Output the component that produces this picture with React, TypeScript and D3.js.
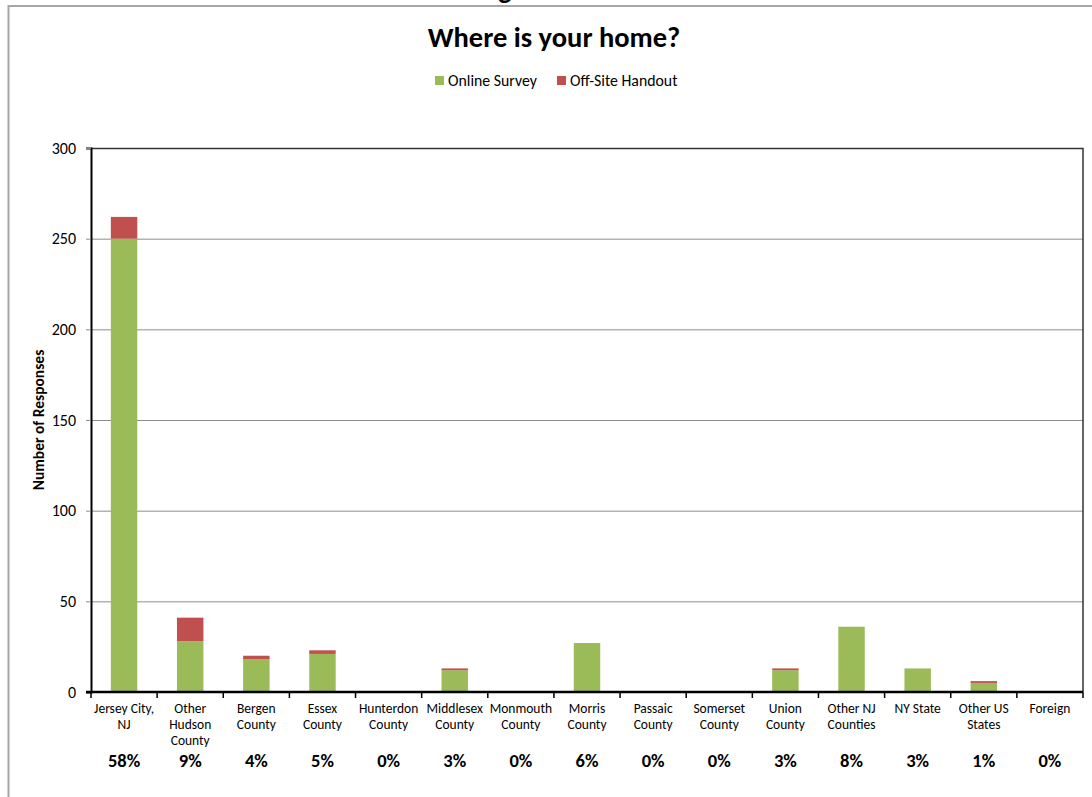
import React, { useEffect, useRef } from 'react';
import * as d3 from 'd3';

const categories = [
  'Jersey City, NJ', 'Other Hudson County', 'Bergen County', 'Essex County', 'Hunterdon County',
  'Middlesex County', 'Monmouth County', 'Morris County', 'Passaic County', 'Somerset County',
  'Union County', 'Other NJ Counties', 'NY State', 'Other US States', 'Foreign',
];
// wrapped tick label lines as shown under each bar
const labelLines = [
  ['Jersey City,', 'NJ'], ['Other', 'Hudson', 'County'], ['Bergen', 'County'], ['Essex', 'County'],
  ['Hunterdon', 'County'], ['Middlesex', 'County'], ['Monmouth', 'County'], ['Morris', 'County'],
  ['Passaic', 'County'], ['Somerset', 'County'], ['Union', 'County'], ['Other NJ', 'Counties'],
  ['NY State'], ['Other US', 'States'], ['Foreign'],
];
const onlineSurvey = [250, 28, 18, 21, 0, 12, 0, 27, 0, 0, 12, 36, 13, 5, 0];
const offSiteHandout = [12, 13, 2, 2, 0, 1, 0, 0, 0, 0, 1, 0, 0, 1, 0];
const percentLabels = ['58%', '9%', '4%', '5%', '0%', '3%', '0%', '6%', '0%', '0%', '3%', '8%', '3%', '1%', '0%'];
const yTicks = [0, 50, 100, 150, 200, 250, 300];
const seriesNames = ['Online Survey', 'Off-Site Handout'];
const colors = ['#9bbb59', '#c0504d'];

const FONT = 'Carlito, Calibri, Lato, sans-serif';

export default function App() {
  const svgRef = useRef<SVGSVGElement>(null);

  useEffect(() => {
    if (!svgRef.current) return;
    const svg = d3.select(svgRef.current);
    svg.selectAll('*').remove();

    const W = 1092, H = 797;
    const left = 91, right = 1083, top = 148, bottom = 692;

    // outer chart frame (runs past the window on right/bottom)
    svg.append('rect')
      .attr('x', 8.5).attr('y', 6).attr('width', W + 20).attr('height', H + 20)
      .attr('fill', '#fff').attr('stroke', '#a6a6a6').attr('stroke-width', 2);

    // descender of a cut-off heading above the frame
    svg.append('text').attr('x', 505).attr('y', -1).attr('text-anchor', 'middle')
      .attr('font-family', FONT).attr('font-weight', 'bold').attr('font-size', 28).text('g');

    svg.append('text').attr('x', 554).attr('y', 47).attr('text-anchor', 'middle')
      .attr('font-family', FONT).attr('font-weight', 'bold').attr('font-size', 28.5)
      .attr('fill', '#000').text('Where is your home?');

    // legend
    const legendX = [435, 557];
    seriesNames.forEach((name, i) => {
      svg.append('rect').attr('x', legendX[i]).attr('y', 76).attr('width', 9).attr('height', 9)
        .attr('fill', colors[i]);
      svg.append('text').attr('x', legendX[i] + 13).attr('y', 86)
        .attr('font-family', FONT).attr('font-size', 15.8).attr('fill', '#000').text(name);
    });

    const x = d3.scaleBand<string>().domain(categories).range([left, right]).paddingInner(0).paddingOuter(0);
    const y = d3.scaleLinear().domain([0, 300]).range([bottom, top]);

    // gridlines
    svg.append('g').selectAll('line').data(yTicks.filter(t => t > 0 && t < 300)).enter().append('line')
      .attr('x1', left).attr('x2', right)
      .attr('y1', d => y(d) + 0.5).attr('y2', d => y(d) + 0.5)
      .attr('stroke', '#8c8c8c').attr('stroke-width', 1);

    // plot area top/right border
    svg.append('path')
      .attr('d', `M${left},${y(300) + 0.5}H${right}V${bottom}`)
      .attr('fill', 'none').attr('stroke', '#333').attr('stroke-width', 1.5);

    // stacked bars
    const stackData = categories.map((c, i) => ({ cat: c, online: onlineSurvey[i], handout: offSiteHandout[i] }));
    const stack = d3.stack<any>().keys(['online', 'handout'])(stackData);
    const barW = x.bandwidth() * 0.4;
    stack.forEach((layer, li) => {
      svg.append('g').selectAll('rect').data(layer).enter().append('rect')
        .attr('x', d => x(d.data.cat)! + (x.bandwidth() - barW) / 2)
        .attr('y', d => y(d[1]))
        .attr('width', barW)
        .attr('height', d => Math.max(0, y(d[0]) - y(d[1])))
        .attr('fill', colors[li]);
    });

    // y axis
    const yAxis = svg.append('g').attr('transform', `translate(${left},0)`)
      .call(d3.axisLeft(y).tickValues(yTicks).tickSize(5).tickPadding(10));
    yAxis.select('.domain').attr('stroke', '#000').attr('stroke-width', 2);
    yAxis.selectAll('.tick line').attr('stroke', '#8c8c8c');
    yAxis.selectAll('.tick text').attr('font-family', FONT).attr('font-size', 16).attr('fill', '#000');

    // x axis line and ticks at category boundaries
    svg.append('line').attr('x1', left - 5).attr('x2', right).attr('y1', bottom).attr('y2', bottom)
      .attr('stroke', '#000').attr('stroke-width', 2.5);
    const bounds = categories.map(c => x(c)!).concat([right]);
    svg.append('g').selectAll('line').data(bounds).enter().append('line')
      .attr('x1', d => d).attr('x2', d => d).attr('y1', bottom).attr('y2', bottom + 6)
      .attr('stroke', '#000').attr('stroke-width', 1.5);

    // category labels
    categories.forEach((c, i) => {
      const cx = x(c)! + x.bandwidth() / 2;
      const t = svg.append('text').attr('x', cx).attr('y', 713).attr('text-anchor', 'middle')
        .attr('font-family', FONT).attr('font-size', 13.5).attr('fill', '#000');
      labelLines[i].forEach((line, j) => {
        t.append('tspan').attr('x', cx).attr('y', 713 + j * 16).text(line);
      });
      svg.append('text').attr('x', cx).attr('y', 767).attr('text-anchor', 'middle')
        .attr('font-family', FONT).attr('font-weight', 'bold').attr('font-size', 18.5)
        .attr('fill', '#000').text(percentLabels[i]);
    });

    // y axis title
    svg.append('text').attr('transform', `translate(44,${(top + bottom) / 2}) rotate(-90)`)
      .attr('text-anchor', 'middle').attr('font-family', FONT).attr('font-weight', 'bold')
      .attr('font-size', 15.5).attr('fill', '#000').text('Number of Responses');
  }, []);

  return (
    <svg ref={svgRef} width={1092} height={797}
      style={{ position: 'absolute', left: 0, top: 0, background: '#fff' }} />
  );
}
